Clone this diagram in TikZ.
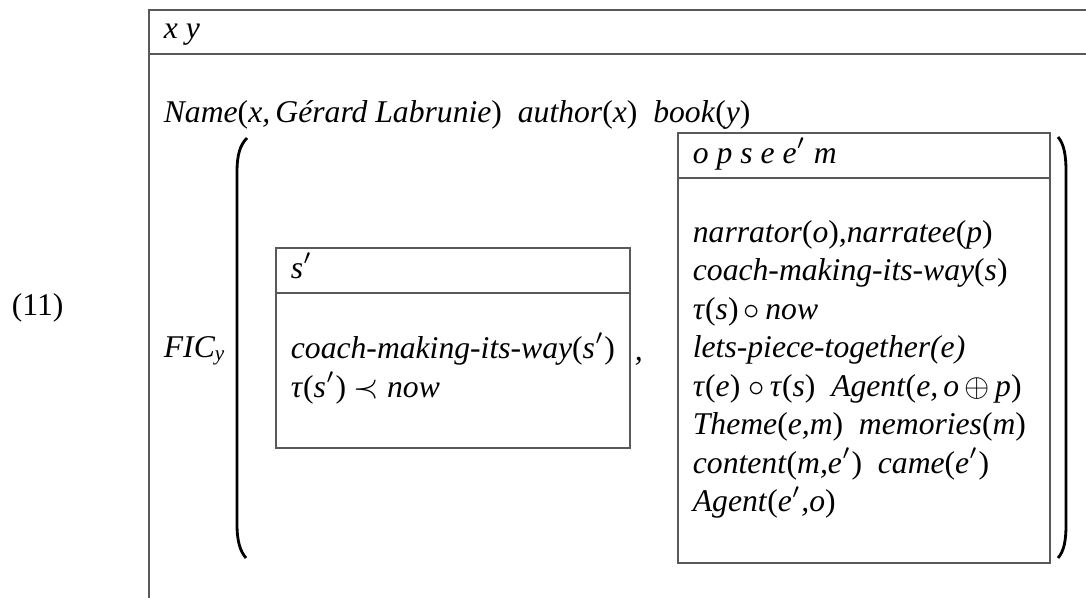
\documentclass[tikz,border=0pt]{standalone}
\usepackage{amsmath}
\usepackage{fontspec}
\setmainfont{Liberation Serif}
\usepackage{tikz}
\newcommand{\pa}[1]{\textup{(}#1\textup{)}}

\begin{document}
\begin{tikzpicture}[x=0.01cm, y=0.01cm, line width=0.5pt,
	lbl/.style={anchor=base west, font=\fontsize{9}{11}\selectfont\itshape},
	boxline/.style={black!65},
	bigparen/.style={black, line width=0.8pt}]
	\tikzstyle{every node}+=[inner sep=0pt]
	\useasboundingbox (0,0) rectangle (1086,-597);
	% outer box (runs off the page)
	\draw [boxline] (1095,-10) -- (149,-10) -- (149,-605);
	\draw [boxline] (149,-54) -- (1095,-54);
	\node [lbl] (xy) at (163,-38) {x y};
	\node [lbl] (name) at (163,-122) {Name\pa{x,\,Gérard Labrunie}\ \ author\pa{x}\ \ book\pa{y}};
	\node [lbl, font=\fontsize{9}{11}\selectfont\upshape] (num) at (11,-315) {(11)};
	\node [lbl] (fic) at (163,-357) {FIC$_{\textit{y}}$};
	% parentheses
	\draw [bigparen] (247,-138) .. controls (240,-145) and (237,-155) .. (237,-172) -- (237,-524) .. controls (237,-541) and (240,-551) .. (246,-558);
	\draw [bigparen] (1058,-137) .. controls (1064,-144) and (1066,-155) .. (1066,-172) -- (1066,-524) .. controls (1066,-541) and (1064,-551) .. (1058,-558);
	% first box
	\draw [boxline] (276,-248) rectangle (630,-448);
	\draw [boxline] (276,-293) -- (630,-293);
	\node [lbl] (sp) at (290,-278) {s$'$};
	\node [lbl] (coachp) at (290,-358) {coach-making-its-way\pa{s$'$}};
	\node [lbl] (taup) at (290,-397) {τ\pa{s$'$} $\prec$ now};
	\node [lbl] (comma) at (634,-360) {,};
	% second box
	\draw [boxline] (678,-133) rectangle (1050,-563);
	\draw [boxline] (678,-178) -- (1050,-178);
	\node [lbl] (ops) at (692,-163) {o p s e e$'$ m};
	\node [lbl] (nar) at (692,-242) {narrator\pa{o},narratee\pa{p}};
	\node [lbl] (coach) at (692,-280.5) {coach-making-its-way\pa{s}};
	\node [lbl] (taus) at (692,-319) {τ\pa{s}\,$\circ$\,now};
	\node [lbl] (lets) at (692,-357.5) {lets-piece-together(e)};
	\node [lbl] (taue) at (692,-396) {τ\pa{e}\ $\circ$\,τ\pa{s}\ \ Agent\pa{e,\,o\,$\oplus$\,p}};
	\node [lbl] (theme) at (692,-434.5) {Theme\pa{e,m}\ \ memories\pa{m}};
	\node [lbl] (cont) at (692,-473) {content\pa{m,e$'$}\ \ came\pa{e$'$}};
	\node [lbl] (agent) at (692,-511.5) {Agent\pa{e$'$,o}};
\end{tikzpicture}
\end{document}
